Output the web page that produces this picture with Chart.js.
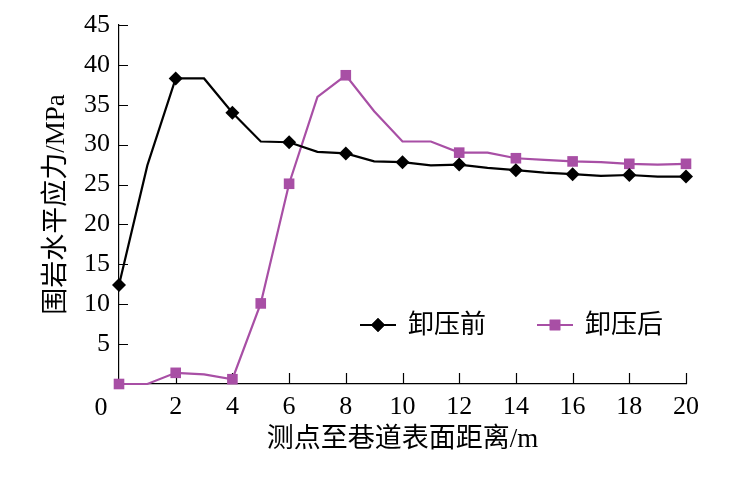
<!DOCTYPE html>
<html><head><meta charset="utf-8">
<script src="https://cdn.jsdelivr.net/npm/chart.js@4.4.1/dist/chart.umd.min.js"></script>
<style>html,body{margin:0;padding:0;background:#fff}canvas{display:block}</style>
</head><body>
<canvas id="c" width="740" height="484"></canvas>
<script>
// ---- data ----
const distances = [0,1,2,3,4,5,6,7,8,9,10,11,12,13,14,15,16,17,18,19,20];
const beforeRelief = [12.4,27.4,38.3,38.3,34.0,30.4,30.3,29.1,28.9,27.9,27.8,27.4,27.5,27.1,26.8,26.5,26.3,26.1,26.2,26.0,26.0];
const afterRelief  = [0,0,1.4,1.2,0.6,10.1,25.1,36.0,38.7,34.2,30.4,30.4,29.0,29.0,28.3,28.1,27.9,27.8,27.6,27.5,27.6];
const beforeMarked = [0,2,4,6,8,10,12,14,16,18,20];
const afterMarked  = [0,2,4,5,6,8,12,14,16,18,20];
const seriesNames = ['卸压前','卸压后'];
const xTickValues = [0,2,4,6,8,10,12,14,16,18,20];
const yTickValues = [5,10,15,20,25,30,35,40,45];
const xTitle = '测点至巷道表面距离/m';
const yTitle = '围岩水平应力/MPa';

const PURPLE = '#a84fa5';
const FONT_NUM = "'Liberation Serif', 'Times New Roman', serif";
const FONT_TXT = "'Liberation Serif', 'Noto Sans CJK SC', serif";

const inwardTicks = {
  id: 'inwardTicks',
  beforeDatasetsDraw(chart) {
    const {ctx, chartArea, scales: {x, y}} = chart;
    ctx.save();
    ctx.strokeStyle = '#000';
    ctx.lineWidth = 1.2;
    ctx.beginPath();
    yTickValues.forEach(v => {
      const py = Math.round(y.getPixelForValue(v)) + 0.5;
      ctx.moveTo(chartArea.left, py); ctx.lineTo(chartArea.left + 9, py);
    });
    xTickValues.forEach(v => {
      if (v === 0) return;
      const px = Math.round(x.getPixelForValue(v)) + 0.5;
      ctx.moveTo(px, chartArea.bottom); ctx.lineTo(px, chartArea.bottom - 11);
    });
    ctx.stroke();
    ctx.fillStyle = '#000';
    ctx.font = "26px " + FONT_NUM;
    ctx.textAlign = 'center';
    ctx.textBaseline = 'middle';
    ctx.fillText('0', x.getPixelForValue(0) - 18, chartArea.bottom + 24);
    ctx.restore();
  }
};

const customLegend = {
  id: 'customLegend',
  afterDatasetsDraw(chart) {
    const {ctx, chartArea} = chart;
    const yPos = chartArea.top + 300;
    const entries = [
      {x: chartArea.left + 241, ds: chart.data.datasets[0], style: 'rectRot', r: 7},
      {x: chartArea.left + 418, ds: chart.data.datasets[1], style: 'rect', r: 7.5}
    ];
    ctx.save();
    entries.forEach(e => {
      ctx.strokeStyle = e.ds.borderColor;
      ctx.lineWidth = 2.2;
      ctx.beginPath();
      ctx.moveTo(e.x, yPos); ctx.lineTo(e.x + 36, yPos);
      ctx.stroke();
      ctx.fillStyle = e.ds.borderColor;
      Chart.helpers.drawPoint(ctx, {pointStyle: e.style, radius: e.r, borderWidth: 0, rotation: 0}, e.x + 18, yPos);
      ctx.fill();
      ctx.fillStyle = '#000';
      ctx.font = "26px " + FONT_TXT;
      ctx.textAlign = 'left';
      ctx.textBaseline = 'middle';
      ctx.fillText(e.ds.label, e.x + 48, yPos + 1);
    });
    ctx.restore();
  }
};

function radiusFor(marked, r) {
  return c => marked.includes(distances[c.dataIndex]) ? r : 0;
}

new Chart(document.getElementById('c'), {
  type: 'line',
  data: {
    datasets: [
      {
        label: seriesNames[0],
        data: distances.map((d, i) => ({x: d, y: beforeRelief[i]})),
        borderColor: '#000', backgroundColor: '#000',
        borderWidth: 2.2, pointStyle: 'rectRot',
        pointRadius: radiusFor(beforeMarked, 7), pointBorderWidth: 0,
        tension: 0, clip: false
      },
      {
        label: seriesNames[1],
        data: distances.map((d, i) => ({x: d, y: afterRelief[i]})),
        borderColor: PURPLE, backgroundColor: PURPLE,
        borderWidth: 2.2, pointStyle: 'rect',
        pointRadius: radiusFor(afterMarked, 7.5), pointBorderWidth: 0,
        tension: 0, clip: false
      }
    ]
  },
  options: {
    responsive: false, animation: false,
    devicePixelRatio: 1,
    layout: {padding: {left: 0, right: 54, top: 25, bottom: 0}},
    plugins: {legend: {display: false}, tooltip: {enabled: false}},
    scales: {
      x: {
        type: 'linear', min: 0, max: 20,
        afterBuildTicks: s => { s.ticks = xTickValues.map(v => ({value: v})); },
        afterFit: s => { s.height = 100; },
        grid: {drawOnChartArea: false, drawTicks: false},
        border: {display: true, color: '#000', width: 1.2},
        ticks: {
          color: '#000', padding: 8, maxRotation: 0, autoSkip: false,
          font: {family: FONT_NUM, size: 26},
          callback: v => v === 0 ? '' : String(v)
        },
        title: {display: true, text: xTitle, color: '#000',
          font: {family: FONT_TXT, size: 27}, padding: {top: 0, bottom: 28}}
      },
      y: {
        type: 'linear', min: 0, max: 45,
        afterBuildTicks: s => { s.ticks = [0].concat(yTickValues).map(v => ({value: v})); },
        afterFit: s => { s.width = 119; },
        grid: {drawOnChartArea: false, drawTicks: false},
        border: {display: true, color: '#000', width: 1.2},
        ticks: {
          color: '#000', padding: 9, autoSkip: false,
          font: {family: FONT_NUM, size: 26},
          callback: v => v === 0 ? '' : String(v)
        },
        title: {display: true, text: yTitle, color: '#000',
          font: {family: FONT_TXT, size: 27}, padding: {top: 41, bottom: 0}}
      }
    }
  },
  plugins: [inwardTicks, customLegend]
});
</script>
</body></html>
